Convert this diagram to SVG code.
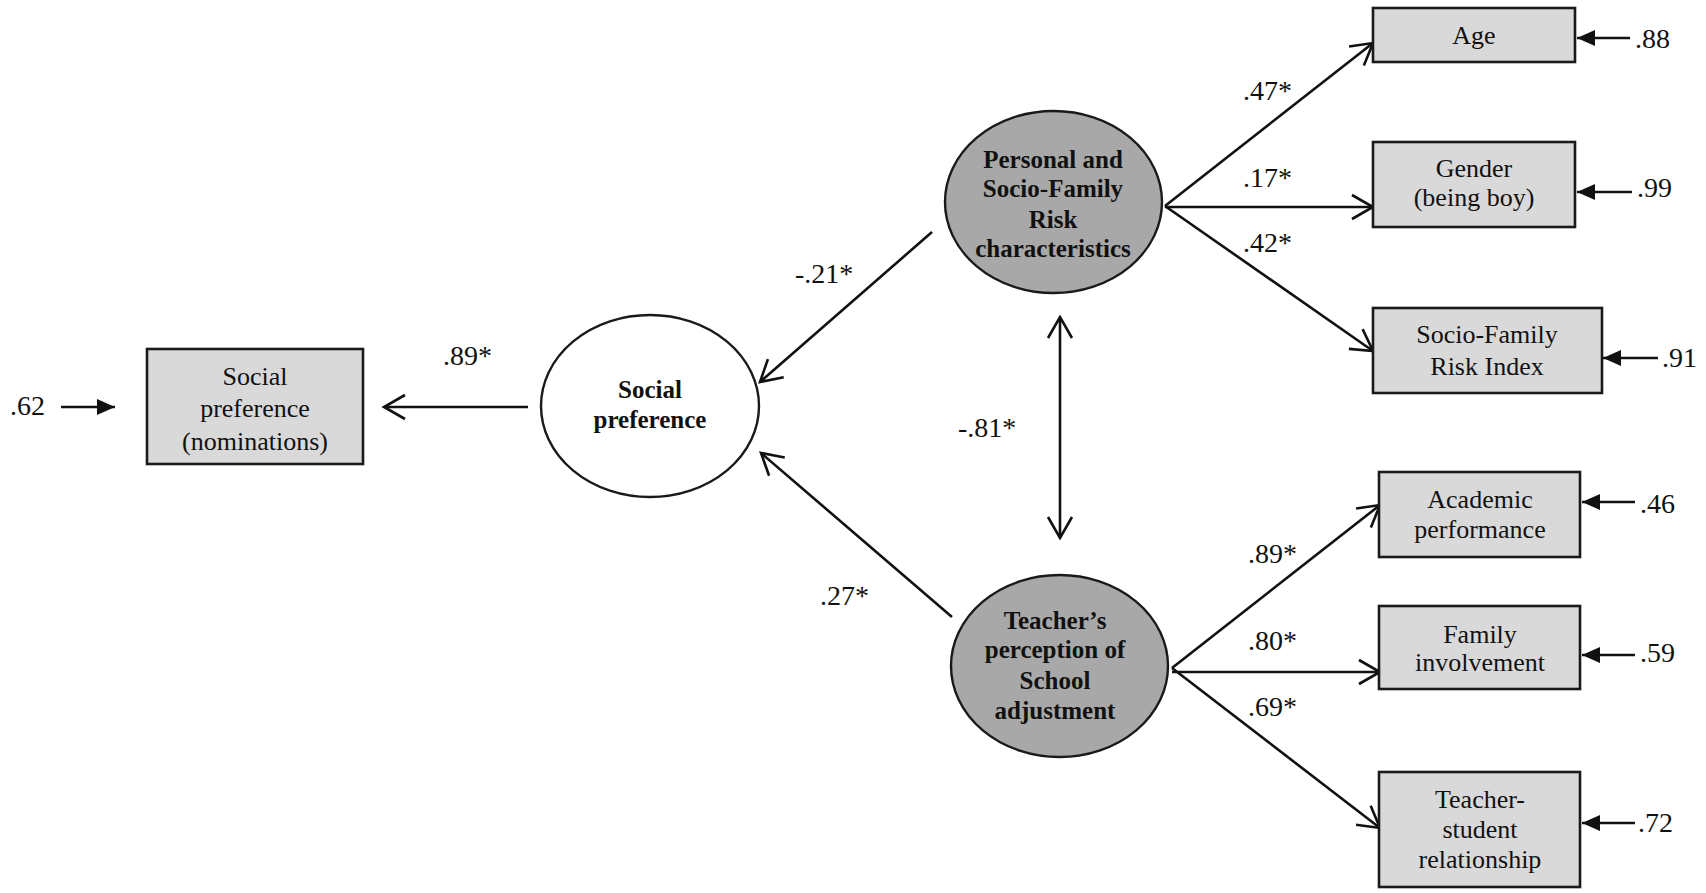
<svg xmlns="http://www.w3.org/2000/svg" width="1706" height="893" viewBox="0 0 1706 893">
<defs>
<marker id="open" markerUnits="userSpaceOnUse" markerWidth="30" markerHeight="30" refX="0" refY="0" viewBox="-24 -15 28 30" orient="auto-start-reverse" overflow="visible">
<path d="M -21 -12 L 0 0 L -21 12" fill="none" stroke="#111" stroke-width="2.6" stroke-linejoin="miter"/>
</marker>
<marker id="solid" markerUnits="userSpaceOnUse" markerWidth="24" markerHeight="20" refX="0" refY="0" viewBox="-20 -10 22 20" orient="auto" overflow="visible">
<path d="M -18 -8 L 0 0 L -18 8 Z" fill="#111"/>
</marker>
</defs>
<style>
.box{fill:#d9d9d9;stroke:#1a1a1a;stroke-width:2.6}
.lat{fill:#a8a8a8;stroke:#1a1a1a;stroke-width:2.4}
.latw{fill:#ffffff;stroke:#1a1a1a;stroke-width:2.4}
.t{font-family:"Liberation Serif","Times New Roman",serif;font-size:26px;fill:#111;text-anchor:middle}
.b{font-family:"Liberation Serif","Times New Roman",serif;font-size:25px;font-weight:bold;fill:#111;text-anchor:middle}
.l{font-family:"Liberation Serif","Times New Roman",serif;font-size:28px;fill:#111}
.c{fill:none;stroke:#111;stroke-width:2.6}
.po{marker-end:url(#open)}
.ps{marker-end:url(#solid)}
</style>
<rect width="1706" height="893" fill="#ffffff"/>
<g id="connectors">
<line class="c po" x1="528" y1="407" x2="384" y2="407"/>
<line class="c po" x1="932" y1="232" x2="760" y2="382"/>
<line class="c po" x1="952" y1="617" x2="761" y2="453"/>
<line class="c po" x1="1060" y1="317" x2="1060" y2="538" style="marker-start:url(#open)"/>
<line class="c po" x1="1165" y1="206" x2="1373" y2="43"/>
<line class="c po" x1="1165" y1="207" x2="1373" y2="207"/>
<line class="c po" x1="1165" y1="206" x2="1373" y2="351"/>
<line class="c po" x1="1172" y1="668" x2="1380" y2="505"/>
<line class="c po" x1="1172" y1="672" x2="1380" y2="672"/>
<line class="c po" x1="1172" y1="668" x2="1380" y2="828"/>
<line class="c ps" x1="61" y1="407" x2="115" y2="407"/>
<line class="c ps" x1="1630" y1="38" x2="1577" y2="38"/>
<line class="c ps" x1="1632" y1="192" x2="1577" y2="192"/>
<line class="c ps" x1="1658" y1="358" x2="1603" y2="358"/>
<line class="c ps" x1="1635" y1="502" x2="1582" y2="502"/>
<line class="c ps" x1="1635" y1="655" x2="1582" y2="655"/>
<line class="c ps" x1="1635" y1="823" x2="1582" y2="823"/>
</g>
<g id="labels">
<text class="l" x="443" y="365">.89*</text>
<text class="l" x="795" y="283">-.21*</text>
<text class="l" x="820" y="605">.27*</text>
<text class="l" x="958" y="437">-.81*</text>
<text class="l" x="1243" y="100">.47*</text>
<text class="l" x="1243" y="187">.17*</text>
<text class="l" x="1243" y="252">.42*</text>
<text class="l" x="1248" y="563">.89*</text>
<text class="l" x="1248" y="650">.80*</text>
<text class="l" x="1248" y="716">.69*</text>
<text class="l" x="10" y="415">.62</text>
<text class="l" x="1635" y="48">.88</text>
<text class="l" x="1637" y="197">.99</text>
<text class="l" x="1662" y="367">.91</text>
<text class="l" x="1640" y="513">.46</text>
<text class="l" x="1640" y="662">.59</text>
<text class="l" x="1638" y="832">.72</text>
</g>
<g id="social-pref-obs">
<rect class="box" x="147" y="349" width="216" height="115"/>
<text class="t" x="255" y="385">Social</text>
<text class="t" x="255" y="417">preference</text>
<text class="t" x="255" y="450">(nominations)</text>
</g>
<g id="social-pref-latent">
<ellipse class="latw" cx="650" cy="406" rx="109" ry="91"/>
<text class="b" x="650" y="398">Social</text>
<text class="b" x="650" y="428">preference</text>
</g>
<g id="personal-risk">
<ellipse class="lat" cx="1053.5" cy="202" rx="108.5" ry="91"/>
<text class="b" x="1053" y="168">Personal and</text>
<text class="b" x="1053" y="197">Socio-Family</text>
<text class="b" x="1053" y="228">Risk</text>
<text class="b" x="1053" y="257">characteristics</text>
</g>
<g id="teacher-perception">
<ellipse class="lat" cx="1059.5" cy="666" rx="108.5" ry="91"/>
<text class="b" x="1055" y="629">Teacher’s</text>
<text class="b" x="1055" y="658">perception of</text>
<text class="b" x="1055" y="689">School</text>
<text class="b" x="1055" y="719">adjustment</text>
</g>
<g id="age">
<rect class="box" x="1373" y="8" width="202" height="54"/>
<text class="t" x="1474" y="44">Age</text>
</g>
<g id="gender">
<rect class="box" x="1373" y="142" width="202" height="85"/>
<text class="t" x="1474" y="177">Gender</text>
<text class="t" x="1474" y="206">(being boy)</text>
</g>
<g id="socio-family-index">
<rect class="box" x="1373" y="308" width="229" height="85"/>
<text class="t" x="1487" y="343">Socio-Family</text>
<text class="t" x="1487" y="375">Risk Index</text>
</g>
<g id="academic">
<rect class="box" x="1379" y="472" width="201" height="85"/>
<text class="t" x="1480" y="508">Academic</text>
<text class="t" x="1480" y="538">performance</text>
</g>
<g id="family">
<rect class="box" x="1379" y="606" width="201" height="83"/>
<text class="t" x="1480" y="643">Family</text>
<text class="t" x="1480" y="671">involvement</text>
</g>
<g id="teacher-student">
<rect class="box" x="1379" y="772" width="201" height="115"/>
<text class="t" x="1480" y="808">Teacher-</text>
<text class="t" x="1480" y="838">student</text>
<text class="t" x="1480" y="868">relationship</text>
</g>
</svg>
